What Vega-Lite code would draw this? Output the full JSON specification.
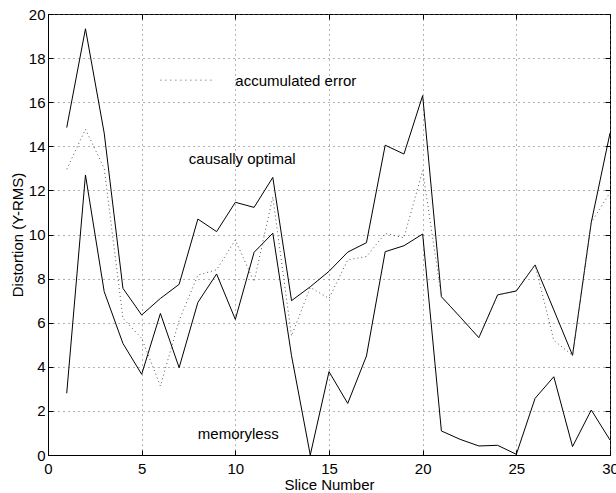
{
  "$schema": "https://vega.github.io/schema/vega-lite/v6.json",
  "width": 562,
  "height": 441,
  "autosize": "none",
  "padding": {"left": 48, "top": 14, "right": 6, "bottom": 38},
  "background": "white",
  "config": {
    "view": {"stroke": "black", "strokeWidth": 1},
    "font": "Liberation Sans",
    "axis": {
      "domainColor": "black",
      "domainWidth": 1,
      "tickColor": "black",
      "tickSize": -5,
      "labelColor": "black",
      "labelFontSize": 15,
      "labelFont": "Liberation Sans",
      "titleFont": "Liberation Sans",
      "titleFontSize": 15,
      "titleFontWeight": "normal",
      "titleColor": "black",
      "gridColor": "#666666",
      "gridDash": [1, 4],
      "gridWidth": 1
    }
  },
  "datasets": {
    "series": [
      {"slice": 1, "value": 14.85, "series": "upper"},
      {"slice": 2, "value": 19.33, "series": "upper"},
      {"slice": 3, "value": 14.6, "series": "upper"},
      {"slice": 4, "value": 7.56, "series": "upper"},
      {"slice": 5, "value": 6.35, "series": "upper"},
      {"slice": 6, "value": 7.1, "series": "upper"},
      {"slice": 7, "value": 7.74, "series": "upper"},
      {"slice": 8, "value": 10.7, "series": "upper"},
      {"slice": 9, "value": 10.13, "series": "upper"},
      {"slice": 10, "value": 11.46, "series": "upper"},
      {"slice": 11, "value": 11.23, "series": "upper"},
      {"slice": 12, "value": 12.59, "series": "upper"},
      {"slice": 13, "value": 7.0, "series": "upper"},
      {"slice": 14, "value": 7.63, "series": "upper"},
      {"slice": 15, "value": 8.33, "series": "upper"},
      {"slice": 16, "value": 9.2, "series": "upper"},
      {"slice": 17, "value": 9.63, "series": "upper"},
      {"slice": 18, "value": 14.05, "series": "upper"},
      {"slice": 19, "value": 13.65, "series": "upper"},
      {"slice": 20, "value": 16.3, "series": "upper"},
      {"slice": 21, "value": 7.18, "series": "upper"},
      {"slice": 22, "value": 6.26, "series": "upper"},
      {"slice": 23, "value": 5.32, "series": "upper"},
      {"slice": 24, "value": 7.26, "series": "upper"},
      {"slice": 25, "value": 7.44, "series": "upper"},
      {"slice": 26, "value": 8.62, "series": "upper"},
      {"slice": 27, "value": 6.58, "series": "upper"},
      {"slice": 28, "value": 4.52, "series": "upper"},
      {"slice": 29, "value": 10.55, "series": "upper"},
      {"slice": 30, "value": 14.6, "series": "upper"},
      {"slice": 1, "value": 2.8, "series": "lower"},
      {"slice": 2, "value": 12.7, "series": "lower"},
      {"slice": 3, "value": 7.41, "series": "lower"},
      {"slice": 4, "value": 5.06, "series": "lower"},
      {"slice": 5, "value": 3.66, "series": "lower"},
      {"slice": 6, "value": 6.42, "series": "lower"},
      {"slice": 7, "value": 3.96, "series": "lower"},
      {"slice": 8, "value": 6.92, "series": "lower"},
      {"slice": 9, "value": 8.21, "series": "lower"},
      {"slice": 10, "value": 6.15, "series": "lower"},
      {"slice": 11, "value": 9.19, "series": "lower"},
      {"slice": 12, "value": 10.06, "series": "lower"},
      {"slice": 13, "value": 4.5, "series": "lower"},
      {"slice": 14, "value": 0.0, "series": "lower"},
      {"slice": 15, "value": 3.78, "series": "lower"},
      {"slice": 16, "value": 2.34, "series": "lower"},
      {"slice": 17, "value": 4.49, "series": "lower"},
      {"slice": 18, "value": 9.22, "series": "lower"},
      {"slice": 19, "value": 9.49, "series": "lower"},
      {"slice": 20, "value": 10.02, "series": "lower"},
      {"slice": 21, "value": 1.09, "series": "lower"},
      {"slice": 22, "value": 0.71, "series": "lower"},
      {"slice": 23, "value": 0.41, "series": "lower"},
      {"slice": 24, "value": 0.44, "series": "lower"},
      {"slice": 25, "value": 0.03, "series": "lower"},
      {"slice": 26, "value": 2.57, "series": "lower"},
      {"slice": 27, "value": 3.55, "series": "lower"},
      {"slice": 28, "value": 0.38, "series": "lower"},
      {"slice": 29, "value": 2.04, "series": "lower"},
      {"slice": 30, "value": 0.68, "series": "lower"},
      {"slice": 1, "value": 12.96, "series": "accumulated error"},
      {"slice": 2, "value": 14.77, "series": "accumulated error"},
      {"slice": 3, "value": 13.0, "series": "accumulated error"},
      {"slice": 4, "value": 6.2, "series": "accumulated error"},
      {"slice": 5, "value": 5.29, "series": "accumulated error"},
      {"slice": 6, "value": 3.13, "series": "accumulated error"},
      {"slice": 7, "value": 6.1, "series": "accumulated error"},
      {"slice": 8, "value": 8.16, "series": "accumulated error"},
      {"slice": 9, "value": 8.4, "series": "accumulated error"},
      {"slice": 10, "value": 9.75, "series": "accumulated error"},
      {"slice": 11, "value": 7.86, "series": "accumulated error"},
      {"slice": 12, "value": 11.7, "series": "accumulated error"},
      {"slice": 13, "value": 5.4, "series": "accumulated error"},
      {"slice": 14, "value": 7.6, "series": "accumulated error"},
      {"slice": 15, "value": 7.1, "series": "accumulated error"},
      {"slice": 16, "value": 8.85, "series": "accumulated error"},
      {"slice": 17, "value": 9.0, "series": "accumulated error"},
      {"slice": 18, "value": 10.05, "series": "accumulated error"},
      {"slice": 19, "value": 9.85, "series": "accumulated error"},
      {"slice": 20, "value": 12.9, "series": "accumulated error"},
      {"slice": 21, "value": 7.18, "series": "accumulated error"},
      {"slice": 22, "value": 6.26, "series": "accumulated error"},
      {"slice": 23, "value": 5.32, "series": "accumulated error"},
      {"slice": 24, "value": 7.26, "series": "accumulated error"},
      {"slice": 25, "value": 7.44, "series": "accumulated error"},
      {"slice": 26, "value": 8.62, "series": "accumulated error"},
      {"slice": 27, "value": 5.2, "series": "accumulated error"},
      {"slice": 28, "value": 4.52, "series": "accumulated error"},
      {"slice": 29, "value": 10.55, "series": "accumulated error"},
      {"slice": 30, "value": 11.9, "series": "accumulated error"}
    ],
    "legendSample": [
      {"slice": 6.0, "value": 17.0},
      {"slice": 8.8, "value": 17.0}
    ],
    "labels": [
      {"slice": 10.0, "value": 16.95, "text": "accumulated error"},
      {"slice": 7.52, "value": 13.44, "text": "causally optimal"},
      {"slice": 8.0, "value": 0.94, "text": "memoryless"}
    ]
  },
  "resolve": {"axis": {"x": "independent", "y": "independent"}},
  "layer": [
    {
      "data": {"name": "series"},
      "transform": [{"filter": "datum.series != 'accumulated error'"}],
      "mark": {"type": "line", "color": "black", "strokeWidth": 1},
      "encoding": {
        "x": {
          "field": "slice", "type": "quantitative",
          "scale": {"domain": [0, 30], "nice": false},
          "axis": {"values": [0, 5, 10, 15, 20, 25, 30], "title": "Slice Number", "grid": true, "labelPadding": 11, "titlePadding": 1, "labelFlush": false}
        },
        "y": {
          "field": "value", "type": "quantitative",
          "scale": {"domain": [0, 20], "nice": false},
          "axis": {"values": [0, 2, 4, 6, 8, 10, 12, 14, 16, 18, 20], "title": "Distortion (Y-RMS)", "grid": true, "labelPadding": 8, "titlePadding": 3, "labelFlush": false}
        },
        "detail": {"field": "series"}
      }
    },
    {
      "data": {"name": "series"},
      "transform": [{"filter": "datum.series == 'accumulated error'"}],
      "mark": {"type": "line", "color": "#555555", "strokeWidth": 1, "strokeDash": [1, 3]},
      "encoding": {
        "x": {"field": "slice", "type": "quantitative", "axis": {"orient": "top", "values": [0, 5, 10, 15, 20, 25, 30], "labels": false, "title": null, "grid": false, "domain": false}},
        "y": {"field": "value", "type": "quantitative", "axis": {"orient": "right", "values": [0, 2, 4, 6, 8, 10, 12, 14, 16, 18, 20], "labels": false, "title": null, "grid": false, "domain": false}}
      }
    },
    {
      "data": {"name": "legendSample"},
      "mark": {"type": "line", "color": "#555555", "strokeWidth": 1, "strokeDash": [1, 4]},
      "encoding": {
        "x": {"field": "slice", "type": "quantitative", "axis": null},
        "y": {"field": "value", "type": "quantitative", "axis": null}
      }
    },
    {
      "data": {"name": "labels"},
      "mark": {"type": "text", "align": "left", "baseline": "middle", "fontSize": 15, "font": "Liberation Sans", "color": "black"},
      "encoding": {
        "x": {"field": "slice", "type": "quantitative", "axis": null},
        "y": {"field": "value", "type": "quantitative", "axis": null},
        "text": {"field": "text"}
      }
    }
  ]
}
